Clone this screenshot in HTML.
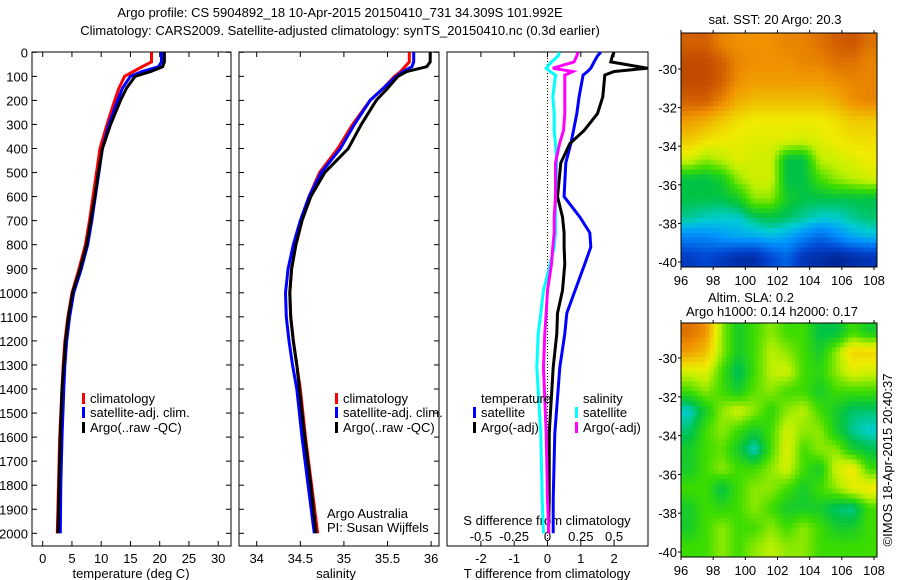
<!DOCTYPE html>
<html><head><meta charset="utf-8"><style>
body{margin:0;background:#fff}
svg{display:block;font-family:"Liberation Sans",sans-serif;font-size:13px}
</style></head><body>
<svg id="fig" width="900" height="580" viewBox="0 0 900 580">
<text x="340" y="17" text-anchor="middle">Argo profile: CS 5904892_18 10-Apr-2015 20150410_731 34.309S 101.992E</text>
<text x="340" y="35" text-anchor="middle">Climatology: CARS2009. Satellite-adjusted climatology: synTS_20150410.nc (0.3d earlier)</text>
<g id="g"></g>
</svg>
<script>
// ---- profile data ----
const depths=[0,40,60,80,100,150,200,300,400,500,600,700,800,900,1000,1100,1200,1300,1400,1600,1800,2000];
const tempClim=[18.6,18.6,17,15.5,14,13,12.3,11,9.8,9.2,8.6,8,7.3,6.2,5,4.3,3.8,3.5,3.3,2.9,2.7,2.5];
const tempSat=[20.3,20.3,19.8,17,15,13.6,12.8,11.3,10.2,9.6,9.0,8.4,7.7,6.6,5.3,4.6,4.1,3.8,3.6,3.3,3.1,3.0];
const tempArgo=[20.8,20.8,20.5,18.5,15.8,14.3,13.3,11.6,10.2,9.5,8.9,8.2,7.5,6.4,5.1,4.4,3.9,3.6,3.3,3.0,2.8,2.6];
const salClim=[35.75,35.75,35.7,35.65,35.58,35.45,35.3,35.1,34.93,34.72,34.6,34.52,34.45,34.4,34.38,34.39,34.42,34.46,34.5,34.56,34.63,34.7];
const salSat=[35.8,35.8,35.78,35.68,35.6,35.45,35.3,35.12,34.96,34.74,34.6,34.5,34.42,34.36,34.33,34.34,34.37,34.41,34.46,34.52,34.59,34.66];
const salArgo=[35.99,35.99,35.95,35.72,35.62,35.5,35.37,35.2,35.05,34.78,34.62,34.52,34.45,34.4,34.38,34.39,34.42,34.46,34.49,34.55,34.62,34.68];
const diffDepths=[0,15,40,66,80,95,185,255,325,380,460,600,685,750,810,880,990,1085,1170,1310,1585,1860,2000];
const tDiffSat=[1.6,1.5,1.4,1.3,1.2,1.07,0.95,0.88,0.78,0.7,0.55,0.5,0.97,1.27,1.3,1.12,0.83,0.58,0.52,0.37,0.22,0.17,0.17];
const tDiffArgo=[2.0,1.95,1.9,3.0,2.0,1.72,1.66,1.5,1.1,0.67,0.4,0.3,0.45,0.5,0.5,0.52,0.45,0.3,0.28,0.17,0.05,0.05,0.03];
const sDiffSat=[0.09,0.08,0.03,-0.01,0.02,0.06,0.04,0.05,0.05,0.06,0.07,0.06,0.06,0.06,0.05,0.02,-0.03,-0.05,-0.07,-0.08,-0.05,-0.04,-0.03];
const sDiffArgo=[0.23,0.22,0.2,0.04,0.19,0.13,0.13,0.13,0.12,0.09,0.06,0.06,0.05,0.05,0.04,0.03,0.0,-0.01,-0.02,-0.03,-0.01,0,0.01];
const depthTicks=[0,100,200,300,400,500,600,700,800,900,1000,1100,1200,1300,1400,1500,1600,1700,1800,1900,2000];
const tempTicks=[0,5,10,15,20,25,30];
const salTicks=[34,34.5,35,35.5,36];
const salTickLabels=["34","34.5","35","35.5","36"];
const tDiffTicks=[-2,-1,0,1,2];
const sDiffTicks=[-0.5,-0.25,0,0.25,0.5];
const sDiffLabels=["-0.5","-0.25","0","0.25","0.5"];
// ---- map data (rows N->S, 1 deg each, cols 96..108) ----
const sstGrid=[
[0.88,0.88,0.82,0.8,0.8,0.8,0.82,0.82,0.85,0.88,0.9,0.85],
[0.92,0.92,0.88,0.82,0.8,0.8,0.8,0.82,0.82,0.85,0.85,0.82],
[0.92,0.92,0.88,0.8,0.78,0.78,0.78,0.78,0.78,0.8,0.82,0.82],
[0.88,0.88,0.82,0.75,0.72,0.72,0.72,0.72,0.72,0.75,0.8,0.82],
[0.78,0.75,0.7,0.66,0.64,0.64,0.64,0.64,0.64,0.66,0.7,0.7],
[0.7,0.66,0.64,0.63,0.62,0.62,0.62,0.6,0.62,0.64,0.66,0.66],
[0.6,0.55,0.58,0.62,0.6,0.6,0.42,0.42,0.58,0.6,0.62,0.64],
[0.42,0.42,0.45,0.55,0.6,0.6,0.42,0.42,0.5,0.55,0.58,0.6],
[0.42,0.42,0.42,0.45,0.55,0.55,0.45,0.42,0.42,0.42,0.42,0.42],
[0.38,0.36,0.35,0.35,0.4,0.42,0.4,0.38,0.35,0.35,0.38,0.4],
[0.25,0.25,0.28,0.3,0.3,0.32,0.3,0.25,0.2,0.25,0.3,0.32],
[0.12,0.15,0.12,0.08,0.08,0.15,0.2,0.1,0.08,0.05,0.08,0.1]];
const slaGrid=[
[0.85,0.8,0.55,0.45,0.5,0.55,0.5,0.5,0.42,0.42,0.5,0.45],
[0.78,0.72,0.55,0.45,0.5,0.58,0.55,0.5,0.45,0.55,0.68,0.68],
[0.6,0.62,0.5,0.4,0.5,0.58,0.6,0.5,0.48,0.55,0.62,0.6],
[0.5,0.55,0.5,0.45,0.52,0.55,0.5,0.5,0.45,0.5,0.5,0.5],
[0.35,0.45,0.55,0.6,0.55,0.48,0.55,0.58,0.5,0.45,0.4,0.4],
[0.4,0.5,0.55,0.5,0.45,0.5,0.6,0.55,0.55,0.45,0.38,0.35],
[0.45,0.5,0.52,0.45,0.35,0.5,0.62,0.5,0.55,0.55,0.45,0.42],
[0.45,0.5,0.55,0.5,0.5,0.55,0.6,0.5,0.45,0.6,0.65,0.5],
[0.5,0.5,0.42,0.5,0.55,0.55,0.5,0.45,0.5,0.55,0.62,0.65],
[0.45,0.5,0.48,0.5,0.55,0.5,0.45,0.45,0.45,0.4,0.38,0.5],
[0.45,0.5,0.55,0.5,0.5,0.55,0.5,0.55,0.5,0.45,0.45,0.5],
[0.5,0.5,0.55,0.5,0.55,0.58,0.55,0.55,0.5,0.5,0.5,0.5]];
const lonTicks=[96,98,100,102,104,106,108];
const latTicks=[-30,-32,-34,-36,-38,-40];

const NS='http://www.w3.org/2000/svg';
const G=document.getElementById('g');
function mk(tag,attrs,parent,txt){const e=document.createElementNS(NS,tag);for(const k in attrs)e.setAttribute(k,attrs[k]);if(txt!==undefined)e.textContent=txt;(parent||G).appendChild(e);return e;}
const yD=d=>52.3+d*0.2405;
const PT={x0:32,x1:231}, PS={x0:239,x1:439}, PD={x0:447,x1:648};
const xT=v=>42.7+v*5.85, xS=v=>256.7+(v-34)*87.2, xTd=v=>547.5+v*33.3, xSd=v=>547.5+v*133.2;

function frame(p,name){
 const r=mk('rect',{x:p.x0,y:52,width:p.x1-p.x0,height:494,fill:'none',stroke:'#000','stroke-width':1});
 
}
function line(xs,ds,xf,col,name){
 const pts=xs.map((v,i)=>xf(v).toFixed(1)+','+yD(ds[i]).toFixed(1)).join(' ');
 const l=mk('polyline',{points:pts,fill:'none',stroke:col,'stroke-width':3,'stroke-linejoin':'miter'});
 
}
function xticks(p,vals,xf,labels,ly,name){
 vals.forEach((v,i)=>{const x=xf(v);
  mk('line',{x1:x,x2:x,y1:546,y2:541,stroke:'#000'});mk('line',{x1:x,x2:x,y1:52,y2:57,stroke:'#000'});
  if(labels){const t=mk('text',{x:x,y:ly,'text-anchor':'middle'},G,labels[i]);}
 });
}
function legendEntry(x,y,col,txt,name){
 mk('rect',{x:x,y:y-10,width:3,height:11,fill:col});
 const t=mk('text',{x:x+8,y:y},G,txt);
}
frame(PT,'temperature-panel');frame(PS,'salinity-panel');frame(PD,'difference-panel');
depthTicks.forEach(d=>{const y=yD(d);
 [PT,PS].forEach(p=>{mk('line',{x1:p.x0,x2:p.x0+5,y1:y,y2:y,stroke:'#000'});mk('line',{x1:p.x1,x2:p.x1-5,y1:y,y2:y,stroke:'#000'});});
 const t=mk('text',{x:28,y:y+5,'text-anchor':'end'},G,String(d));
});
xticks(PT,tempTicks,xT,tempTicks.map(String),563,'temperature-tick-label');
xticks(PS,salTicks,xS,salTickLabels,563,'salinity-tick-label');
xticks(PD,tDiffTicks,xTd,tDiffTicks.map(String),563,'t-diff-tick-label');
sDiffTicks.forEach((v,i)=>{const t=mk('text',{x:xSd(v),y:541,'text-anchor':'middle'},G,sDiffLabels[i]);});
let t;
t=mk('text',{x:131,y:578,'text-anchor':'middle'},G,'temperature (deg C)');
t=mk('text',{x:336,y:578,'text-anchor':'middle'},G,'salinity');
t=mk('text',{x:547,y:578,'text-anchor':'middle'},G,'T difference from climatology');
t=mk('text',{x:547,y:525,'text-anchor':'middle'},G,'S difference from climatology');
mk('line',{x1:xTd(0),x2:xTd(0),y1:52,y2:546,stroke:'#000','stroke-dasharray':'1,2'});
line(tempClim,depths,xT,'#f00','temp-climatology-line');
line(tempSat,depths,xT,'#00f','temp-satellite-line');
line(tempArgo,depths,xT,'#000','temp-argo-line');
line(salClim,depths,xS,'#f00','sal-climatology-line');
line(salSat,depths,xS,'#00f','sal-satellite-line');
line(salArgo,depths,xS,'#000','sal-argo-line');
line(tDiffSat,diffDepths,xTd,'#00f','t-diff-satellite-line');
line(tDiffArgo,diffDepths,xTd,'#000','t-diff-argo-line');
line(sDiffSat,diffDepths,xSd,'#0ff','s-diff-satellite-line');
line(sDiffArgo,diffDepths,xSd,'#f0f','s-diff-argo-line');
legendEntry(82,403,'#f00','climatology','legend-climatology');
legendEntry(82,417,'#00f','satellite-adj. clim.','legend-satellite-adj');
legendEntry(82,432,'#000','Argo(..raw -QC)','legend-argo');
legendEntry(335,403,'#f00','climatology','legend-climatology');
legendEntry(335,417,'#00f','satellite-adj. clim.','legend-satellite-adj');
legendEntry(335,432,'#000','Argo(..raw -QC)','legend-argo');
t=mk('text',{x:481,y:403},G,'temperature');
legendEntry(473,417,'#00f','satellite','legend-t-satellite');
legendEntry(473,432,'#000','Argo(-adj)','legend-t-argo');
t=mk('text',{x:583,y:403},G,'salinity');
legendEntry(575,417,'#0ff','satellite','legend-s-satellite');
legendEntry(575,432,'#f0f','Argo(-adj)','legend-s-argo');
t=mk('text',{x:327,y:518},G,'Argo Australia');
t=mk('text',{x:327,y:532},G,'PI: Susan Wijffels');
const stops=[[0,[0,20,120]],[0.15,[0,70,210]],[0.28,[0,150,255]],[0.35,[0,205,210]],[0.42,[0,195,70]],[0.5,[60,220,0]],[0.58,[190,240,0]],[0.64,[240,235,0]],[0.72,[240,190,0]],[0.8,[240,145,0]],[0.88,[210,95,0]],[1,[160,35,0]]];
function cmap(v){for(let i=1;i<stops.length;i++){if(v<=stops[i][0]){const a=stops[i-1],b=stops[i],f=(v-a[0])/(b[0]-a[0]);return 'rgb('+a[1].map((c,k)=>Math.round(c+(b[1][k]-c)*f)).join(',')+')';}}return 'rgb(160,35,0)';}
function sample(grid,r,c){ // bilinear sample at fractional cell-centre coords
 const R=grid.length,C=grid[0].length;
 r=Math.max(0,Math.min(R-1,r));c=Math.max(0,Math.min(C-1,c));
 const r0=Math.floor(r),c0=Math.floor(c),r1=Math.min(R-1,r0+1),c1=Math.min(C-1,c0+1),fr=r-r0,fc=c-c0;
 return grid[r0][c0]*(1-fr)*(1-fc)+grid[r0][c1]*(1-fr)*fc+grid[r1][c0]*fr*(1-fc)+grid[r1][c1]*fr*fc;
}
function map(grid,top,bot,y30,y40,name,cellName){
 const x0=681,x1=877,lonX=l=>681+(l-96)*(193/12);
 const latY=la=>y30+(-30-la)*(y40-y30)/10;
 const rows=grid.length,cols=grid[0].length,S=4;
 const rh=(bot-top)/(rows*S),cw=(x1-x0)/(cols*S);
 for(let r=0;r<rows*S;r++)for(let c=0;c<cols*S;c++){
  const v=sample(grid,(r+0.5)/S-0.5,(c+0.5)/S-0.5);
  const e=mk('rect',{x:(x0+c*cw).toFixed(2),y:(top+r*rh).toFixed(2),width:(cw+0.5).toFixed(2),height:(rh+0.5).toFixed(2),fill:cmap(v)});
  
 }
 const f=mk('rect',{x:x0,y:top,width:x1-x0,height:bot-top,fill:'none',stroke:'#000'});
 
 lonTicks.forEach(l=>{const x=lonX(l);mk('line',{x1:x,x2:x,y1:top,y2:top-3,stroke:'#000'});mk('line',{x1:x,x2:x,y1:bot,y2:bot+3,stroke:'#000'});
  const tt=mk('text',{x:x,y:bot+18,'text-anchor':'middle'},G,String(l));});
 latTicks.forEach(la=>{const y=latY(la);mk('line',{x1:x0-3,x2:x0,y1:y,y2:y,stroke:'#000'});
  const tt=mk('text',{x:x0-4,y:y+5,'text-anchor':'end'},G,String(la));});
}
map(sstGrid,33,267,69,262,'sst-map','sst-cell');
map(slaGrid,323,557,358,552,'sla-map','sla-cell');
t=mk('text',{x:775,y:24,'text-anchor':'middle'},G,'sat. SST: 20 Argo: 20.3');
t=mk('text',{x:751,y:302,'text-anchor':'middle'},G,'Altim. SLA: 0.2');
t=mk('text',{x:772,y:316,'text-anchor':'middle'},G,'Argo h1000: 0.14 h2000: 0.17');
t=mk('text',{x:892,y:460,'text-anchor':'middle',transform:'rotate(-90 892 460)'},G,'©IMOS 18-Apr-2015 20:40:37');
</script>
</body></html>
